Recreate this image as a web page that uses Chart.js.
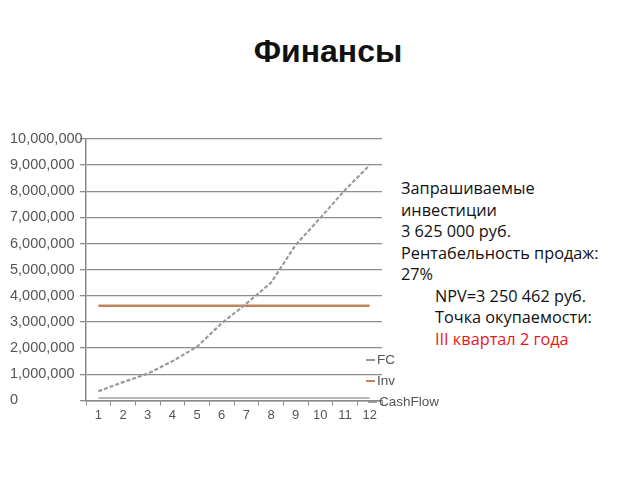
<!DOCTYPE html>
<html>
<head>
<meta charset="utf-8">
<script src="https://cdn.jsdelivr.net/npm/chart.js@4"></script>
<style>
  body { margin: 0; width: 640px; height: 480px; background: #fff; position: relative; overflow: hidden;
         font-family: "Liberation Sans", Arial, sans-serif; }
  #title { position: absolute; left: 0; width: 656px; top: 33px; text-align: center;
           font-size: 32px; font-weight: bold; color: #111; }
  #wrap { position: absolute; left: 0; top: 120px; width: 392px; height: 305px; }
  #info { position: absolute; left: 401px; top: 178px; font-family: "Open Sans", sans-serif;
          font-size: 16.3px; line-height: 21.5px; color: #111; }
  #info .ind { padding-left: 34px; }
  #info .red { color: #e8161b; }
  #legend { position: absolute; left: 366px; top: 349px; font-size: 13.5px; line-height: 21px; color: #555; }
  #legend span.sw { display: inline-block; width: 9px; height: 2px; vertical-align: middle; margin-right: 2px; }
</style>
</head>
<body>
<div id="title">Финансы</div>
<div id="wrap"><canvas id="chart"></canvas></div>
<div id="info">
  <div>Запрашиваемые</div>
  <div>инвестиции</div>
  <div>3 625 000 руб.</div>
  <div>Рентабельность продаж:</div>
  <div>27%</div>
  <div class="ind">NPV=3 250 462 руб.</div>
  <div class="ind">Точка окупаемости:</div>
  <div class="ind red">III квартал 2 года</div>
</div>
<div id="legend">
  <div><span class="sw" style="background:#9a9a9a"></span>FC</div>
  <div><span class="sw" style="background:#c0855a"></span>Inv</div>
  <div style="margin-left:2px"><span class="sw" style="background:#9a9a9a"></span>CashFlow</div>
</div>
<script>
// ── Data ──────────────────────────────────────────────────────────────────────
const periods  = ["1", "2", "3", "4", "5", "6", "7", "8", "9", "10", "11", "12"];
const fcValues = [350000, 700000, 1020000, 1500000, 2050000, 2950000, 3700000, 4500000, 5950000, 6980000, 8050000, 9000000];
const invValues = [3625000, 3625000, 3625000, 3625000, 3625000, 3625000, 3625000, 3625000, 3625000, 3625000, 3625000, 3625000];
const cashFlowValues = [90000, 90000, 90000, 90000, 90000, 90000, 90000, 90000, 90000, 90000, 90000, 90000];
const yTicks = [0, 1000000, 2000000, 3000000, 4000000, 5000000, 6000000, 7000000, 8000000, 9000000, 10000000];

// ── Chart ─────────────────────────────────────────────────────────────────────
const ctx = document.getElementById("chart").getContext("2d");
new Chart(ctx, {
  type: "line",
  data: {
    labels: periods,
    datasets: [
      { label: "FC", data: fcValues, borderColor: "#9a9a9a", borderWidth: 2.2,
        borderDash: [4, 2], pointRadius: 0, tension: 0 },
      { label: "Inv", data: invValues, borderColor: "#c0855a", borderWidth: 2.5,
        pointRadius: 0, tension: 0 },
      { label: "CashFlow", data: cashFlowValues, borderColor: "#a0a0a0", borderWidth: 1.5,
        pointRadius: 0, tension: 0 }
    ]
  },
  options: {
    responsive: true,
    maintainAspectRatio: false,
    animation: false,
    layout: { padding: { top: 19, right: 10, left: 10, bottom: 0 } },
    plugins: { legend: { display: false }, tooltip: { enabled: false } },
    scales: {
      x: {
        offset: true,
        grid: { offset: true, drawOnChartArea: false, drawTicks: true, tickLength: 5, color: "#888" },
        border: { color: "#888", width: 1.5 },
        ticks: { color: "#555", font: { family: "Liberation Sans", size: 13 }, padding: 2 }
      },
      y: {
        min: 0, max: 10000000,
        afterBuildTicks: axis => { axis.ticks = yTicks.map(v => ({ value: v })); },
        afterFit: axis => { axis.width = 76; },
        grid: { color: "#8c8c8c", lineWidth: 1.3, tickLength: 6 },
        border: { color: "#888", width: 1.5 },
        ticks: {
          color: "#555", crossAlign: "far", padding: 4,
          font: { family: "Liberation Sans", size: 14.5 },
          callback: v => v.toLocaleString("en-US")
        }
      }
    }
  }
});
</script>
</body>
</html>
